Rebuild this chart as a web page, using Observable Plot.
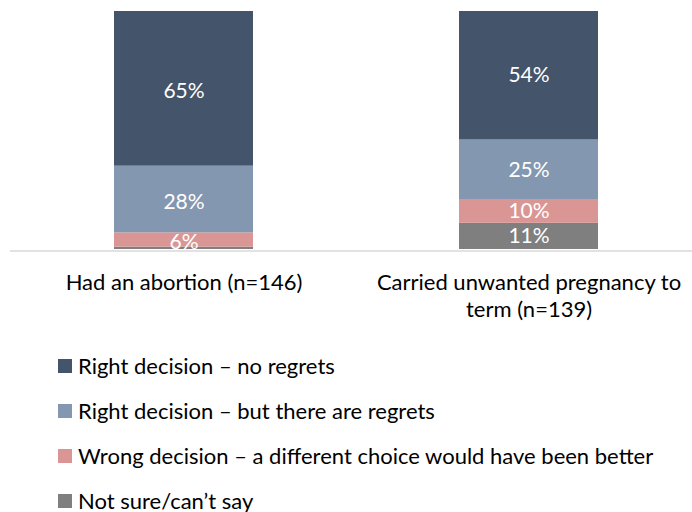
<!DOCTYPE html>
<html>
<head>
<meta charset="utf-8">
<script src="https://cdn.jsdelivr.net/npm/d3@7"></script>
<script src="https://cdn.jsdelivr.net/npm/@observablehq/plot@0.6"></script>
<style>
  html, body { margin: 0; padding: 0; background: #fff; }
  body { width: 692px; height: 512px; overflow: hidden; font-family: Lato, "Open Sans", sans-serif; }
  #legend { position: relative; height: 172px; }
  .row { position: absolute; left: 58px; height: 20px; line-height: 20px; display: flex; align-items: center; font-size: 22px; color: #000; white-space: nowrap; }
  .sw { width: 14px; height: 14px; margin-right: 6px; flex: none; }
</style>
</head>
<body>
<div id="chart"></div>
<div id="legend"></div>
<script>
const categories = ["Had an abortion (n=146)", "Carried unwanted pregnancy to term (n=139)"];
const tickLabels = ["Had an abortion (n=146)", "Carried unwanted pregnancy to\nterm (n=139)"];
const responses = [
  "Right decision \u2013 no regrets",
  "Right decision \u2013 but there are regrets",
  "Wrong decision \u2013 a different choice would have been better",
  "Not sure/can\u2019t say"
];
const colors = ["#44546a", "#8497b0", "#da9694", "#7f7f7f"];
const noRegrets = [65, 54];
const regrets = [28, 25];
const wrong = [6, 10];
const notSure = [1, 11];

const seriesValues = [noRegrets, regrets, wrong, notSure];
// stack order: bottom first
const stackOrder = [3, 2, 1, 0];
const rows = [];
categories.forEach((c, ci) => {
  stackOrder.forEach(si => {
    rows.push({cat: c, resp: responses[si], value: seriesValues[si][ci]});
  });
});

const W = 692, H = 340;
const chart = Plot.plot({
  width: W,
  height: H,
  marginTop: 11,
  marginBottom: 91,
  marginLeft: 10,
  marginRight: 0,
  style: {fontFamily: "Lato, 'Open Sans', sans-serif", color: "#000", background: "#fff"},
  x: {domain: categories, range: [113, 598], paddingInner: 0.598, paddingOuter: 0, axis: null, label: null},
  y: {domain: [0, 100], axis: null},
  color: {domain: responses, range: colors},
  marks: [
    Plot.ruleY([0], {stroke: "#d9d9d9", strokeWidth: 1.5, dy: 1.5}),
    Plot.barY(rows, Plot.stackY({x: "cat", y: "value", fill: "resp", order: null})),
    Plot.text(rows.filter(d => d.value >= 5), Plot.stackY({
      x: "cat", y: "value", z: "resp", order: null,
      text: d => d.value + "%", fill: "#fff", fontSize: 21
    })),
    Plot.axisX({
      domain: categories,
      tickSize: 0,
      tickPadding: 21.5,
      fontSize: 22,
      lineHeight: 1.23,
      fill: "#000",
      label: null,
      tickFormat: d => tickLabels[categories.indexOf(d)]
    })
  ]
});
document.getElementById("chart").appendChild(chart);

const legend = document.getElementById("legend");
const rowCenters = [25.5, 70.5, 115.5, 160.5]; // relative to legend top (y = 340)
responses.forEach((r, i) => {
  const row = document.createElement("div");
  row.className = "row";
  row.style.top = (rowCenters[i] - 10) + "px";
  const sw = document.createElement("span");
  sw.className = "sw";
  sw.style.background = colors[i];
  const t = document.createElement("span");
  t.textContent = r;
  row.appendChild(sw);
  row.appendChild(t);
  legend.appendChild(row);
});
</script>
</body>
</html>
